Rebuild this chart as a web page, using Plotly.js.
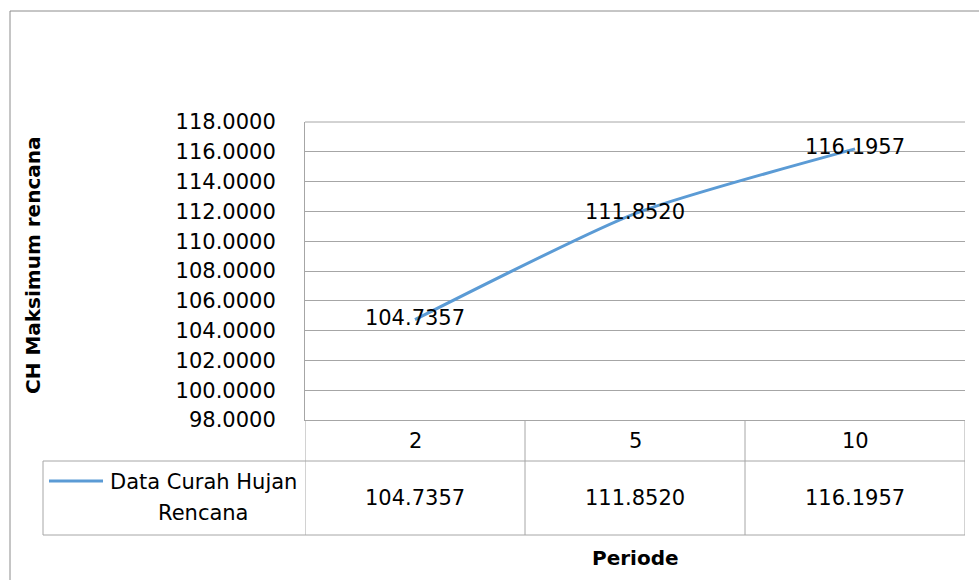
<!DOCTYPE html>
<html>
<head>
<meta charset="utf-8">
<script src="https://cdn.plot.ly/plotly-3.0.1.min.js"></script>
<style>html,body{margin:0;padding:0;background:#fff;}#chart{width:979px;height:580px;}</style>
</head>
<body>
<div id="chart"></div>
<script>
// ---- data ----
var periods = ['2', '5', '10'];
var rainfall = [104.7357, 111.8520, 116.1957];
var seriesName = 'Data Curah Hujan Rencana';
var seriesNameLines = ['Data Curah Hujan', 'Rencana'];
var yTitle = 'CH Maksimum rencana';
var xTitle = 'Periode';

// ---- geometry helpers (pixel -> paper) ----
var W = 979, H = 580;
var PL = 305, PR = 965, PT = 122, PB = 420;
function px(x) { return (x - PL) / (PR - PL); }
function py(y) { return (PB - y) / (PB - PT); }

var FONT = 'DejaVu Sans, sans-serif';
var FS = 21;
var GRID = '#A6A6A6';
var LINE = '#5B9BD5';

var trace = {
  x: periods,
  y: rainfall,
  name: seriesName,
  type: 'scatter',
  mode: 'lines+text',
  line: {color: LINE, width: 3, shape: 'spline', smoothing: 0.6},
  text: rainfall.map(function (v) { return v.toFixed(4); }),
  textposition: 'middle center',
  textfont: {family: FONT, size: FS, color: '#000'},
  cliponaxis: false,
  hoverinfo: 'x+y'
};

var shapes = [];
function hline(x0, x1, y, xref, color, w) {
  shapes.push({type: 'line', xref: xref || 'paper', yref: 'paper', x0: x0, x1: x1, y0: y, y1: y,
    line: {color: color || GRID, width: w || 1}});
}
function vline(x, y0, y1, xref, color) {
  shapes.push({type: 'line', xref: xref || 'paper', yref: 'paper', x0: x, x1: x, y0: y0, y1: y1,
    line: {color: color || GRID, width: 1}});
}
// top border of plot area
hline(0, 1, 1);
// table grid: vertical separators at category boundaries
for (var i = 0; i <= periods.length; i++) {
  vline(i - 0.5, py(PB), py(535), 'x');
}
hline(px(43), 1, py(461));
hline(px(43), 1, py(535));
vline(px(43), py(461), py(535));
// legend key in table
hline(px(49), px(103), py(481), 'paper', LINE, 3);
// outer chart border
hline(px(10), px(980), py(11), 'paper', '#8C8C8C', 1);
vline(px(10), py(11), py(585), 'paper', '#8C8C8C');

var annotations = [];
periods.forEach(function (p, i) {
  annotations.push({xref: 'x', yref: 'paper', x: i, y: py(441), text: p, showarrow: false,
    font: {family: FONT, size: FS, color: '#000'}, xanchor: 'center', yanchor: 'middle'});
  annotations.push({xref: 'x', yref: 'paper', x: i, y: py(498), text: rainfall[i].toFixed(4), showarrow: false,
    font: {family: FONT, size: FS, color: '#000'}, xanchor: 'center', yanchor: 'middle'});
});
annotations.push({xref: 'paper', yref: 'paper', x: px(203), y: py(482), text: seriesNameLines[0], showarrow: false,
  font: {family: FONT, size: FS, color: '#000'}, xanchor: 'center', yanchor: 'middle'});
annotations.push({xref: 'paper', yref: 'paper', x: px(203), y: py(513), text: seriesNameLines[1], showarrow: false,
  font: {family: FONT, size: FS, color: '#000'}, xanchor: 'center', yanchor: 'middle'});
annotations.push({xref: 'paper', yref: 'paper', x: px(33), y: py(266), text: '<b>' + yTitle + '</b>', showarrow: false,
  textangle: -90, font: {family: FONT, size: 20, color: '#000'}, xanchor: 'center', yanchor: 'middle'});
annotations.push({xref: 'paper', yref: 'paper', x: px(635), y: py(558), text: '<b>' + xTitle + '</b>', showarrow: false,
  font: {family: FONT, size: 20, color: '#000'}, xanchor: 'center', yanchor: 'middle'});

var layout = {
  width: W, height: H,
  margin: {l: PL, r: W - PR, t: PT, b: H - PB, pad: 0},
  paper_bgcolor: '#fff', plot_bgcolor: '#fff',
  showlegend: false,
  font: {family: FONT, size: FS, color: '#000'},
  xaxis: {
    type: 'category', range: [-0.5, periods.length - 0.5],
    showticklabels: false, showgrid: false, zeroline: false,
    showline: true, linecolor: GRID, linewidth: 1, ticks: ''
  },
  yaxis: {
    range: [98, 118], tick0: 98, dtick: 2, tickformat: '.4f',
    showgrid: true, gridcolor: GRID, gridwidth: 1, zeroline: false,
    showline: true, linecolor: GRID, linewidth: 1, ticks: '',
    ticklabelstandoff: 24,
    tickfont: {family: FONT, size: FS, color: '#000'}
  },
  shapes: shapes,
  annotations: annotations
};

Plotly.newPlot('chart', [trace], layout, {displayModeBar: false, staticPlot: true});
</script>
</body>
</html>
